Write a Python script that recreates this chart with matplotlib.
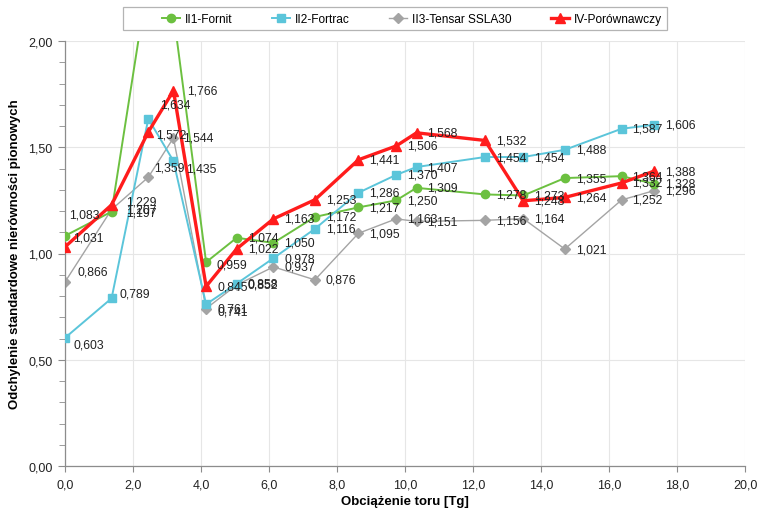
"""
Odchylenie standardowe nierownosci pionowych vs obciazenie toru
odcinki II1, II2, II3 i IV (porownawczy)
"""
import matplotlib
matplotlib.use('Agg')
import matplotlib.pyplot as plt
from matplotlib.patches import Rectangle
from matplotlib.ticker import MultipleLocator, FuncFormatter

########## dane ##########
obciazenie = [0.0, 1.37, 2.45, 3.19, 4.15, 5.05, 6.13, 7.35, 8.63, 9.74,
              10.34, 12.35, 13.48, 14.7, 16.37, 17.33]

fornit = [1.083, 1.197, 2.30, 2.13, 0.959, 1.074, 1.050, 1.172, 1.217, 1.250,
          1.309, 1.278, 1.273, 1.355, 1.364, 1.328]
fortrac = [0.603, 0.789, 1.634, 1.435, 0.761, 0.858, 0.978, 1.116, 1.286, 1.370,
           1.407, 1.454, 1.454, 1.488, 1.587, 1.606]
tensar = [0.866, 1.207, 1.359, 1.544, 0.741, 0.852, 0.937, 0.876, 1.095, 1.163,
          1.151, 1.156, 1.164, 1.021, 1.252, 1.296]
porownawczy = [1.031, 1.229, 1.572, 1.766, 0.845, 1.022, 1.163, 1.253, 1.441, 1.506,
               1.568, 1.532, 1.248, 1.264, 1.332, 1.388]

nazwy = ['II1-Fornit', 'II2-Fortrac', 'II3-Tensar SSLA30', 'IV-Porównawczy']

########## styl ##########
FONT = ['Liberation Sans', 'DejaVu Sans']
NARROW = ['Liberation Sans Narrow', 'Liberation Sans', 'DejaVu Sans']
plt.rcParams['font.family'] = FONT

styles = [
    dict(color='#6cc040', lw=1.4, marker='o', ms=6.0, zorder=3),
    dict(color='#5bc5da', lw=1.4, marker='s', ms=6.0, zorder=4),
    dict(color='#a4a4a4', lw=1.0, marker='D', ms=4.8, zorder=2),
    dict(color='#ff1c1c', lw=2.4, marker='^', ms=7.5, zorder=5),
]

# przesuniecia etykiet (px) tam, gdzie etykiety zostaly przesuniete recznie
DEFAULT_OFF = (11, 0)
label_off = {
    (0, 0): (4, 21), (3, 0): (8, 9), (2, 0): (13, 10), (1, 0): (8, -7),
    (1, 1): (8, 5), (3, 1): (15, 3), (2, 1): (15, 0), (0, 1): (15, -1),
    (1, 2): (12, 14), (3, 2): (8, -3), (2, 2): (6, 10),
    (3, 3): (14, 0), (2, 3): (10, 0), (1, 3): (13, -7),
    (1, 4): (11, -4), (2, 4): (11, -3), (0, 4): (10, -2),
}

def fmt(v, nd):
    return ('%.*f' % (nd, v)).replace('.', ',')

W, H = 761, 510
fig = plt.figure(figsize=(W / 100, H / 100), dpi=100)
ax = fig.add_axes([65 / W, 43 / H, 680 / W, 425 / H])

serie = [fornit, fortrac, tensar, porownawczy]
handles = []
for i, (y, st) in enumerate(zip(serie, styles)):
    h, = ax.plot(obciazenie, y, color=st['color'], lw=st['lw'], marker=st['marker'],
                 ms=st['ms'], mfc=st['color'], mec=st['color'], zorder=st['zorder'],
                 label=nazwy[i], clip_on=True)
    handles.append(h)

# etykiety wartosci
for i, y in enumerate(serie):
    for j, (xv, yv) in enumerate(zip(obciazenie, y)):
        if yv > 2.0:
            continue
        dx, dy = label_off.get((i, j), DEFAULT_OFF)
        ax.annotate(fmt(yv, 3), (xv, yv), xytext=(dx, dy), textcoords='offset pixels',
                    ha='left', va='center', fontsize=8.8, color='#222222',
                    family=FONT, zorder=10)

########## osie ##########
ax.set_xlim(0, 20)
ax.set_ylim(0, 2)
ax.xaxis.set_major_locator(MultipleLocator(2))
ax.yaxis.set_major_locator(MultipleLocator(0.5))
ax.yaxis.set_minor_locator(MultipleLocator(0.1))
ax.xaxis.set_major_formatter(FuncFormatter(lambda v, p: fmt(v, 1)))
ax.yaxis.set_major_formatter(FuncFormatter(lambda v, p: fmt(v, 2)))
ax.grid(True, which='major', color='#e6e6e6', lw=0.8, zorder=0)
ax.set_axisbelow(True)

for s in ['top', 'right']:
    ax.spines[s].set_visible(False)
for s in ['left', 'bottom']:
    ax.spines[s].set_color('#8c8c8c')
    ax.spines[s].set_linewidth(0.9)

ax.tick_params(axis='both', which='both', color='#8c8c8c', direction='out')
ax.tick_params(axis='y', which='major', length=5, pad=4)
ax.tick_params(axis='y', which='minor', length=4)
ax.tick_params(axis='x', which='major', length=4, pad=5)
for tl in ax.get_xticklabels() + ax.get_yticklabels():
    tl.set_family(NARROW)
    tl.set_fontsize(9)
    tl.set_color('#222222')

ax.set_xlabel('Obciążenie toru [Tg]', family=NARROW, fontsize=9.5,
              fontweight='bold', labelpad=3)
ax.set_ylabel('Odchylenie standardowe nierówności pionowych', family=NARROW,
              fontsize=9.5, fontweight='bold', labelpad=5)

########## legenda ##########
leg = fig.legend(handles=handles, loc='center', bbox_to_anchor=(412 / W, 490 / H),
                 ncol=4, fontsize=8.6, frameon=False,
                 handlelength=1.5, handletextpad=0.4, columnspacing=3.3,
                 borderpad=0.3, borderaxespad=0)
fig.patches.append(Rectangle((123 / W, (H - 31) / H), 544 / W, 23 / H,
                             transform=fig.transFigure, fill=False,
                             edgecolor='#b4b4b4', lw=0.9))

fig.savefig('out.png', dpi=100)
